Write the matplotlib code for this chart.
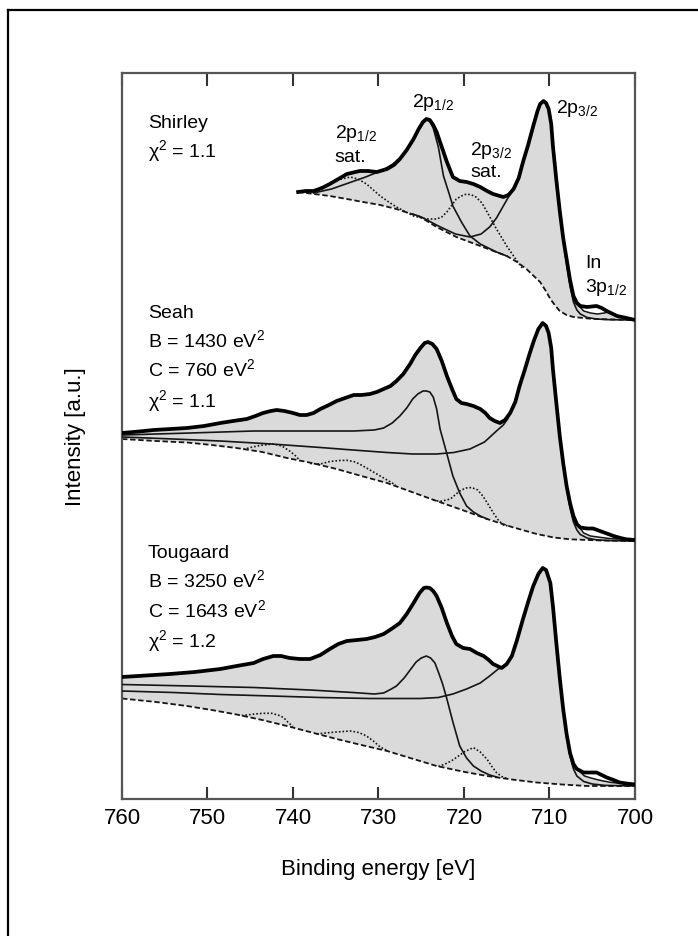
import numpy as np
import matplotlib.pyplot as plt
from matplotlib.lines import Line2D

plt.rcParams['font.family'] = ['Liberation Sans', 'DejaVu Sans']
plt.rcParams['mathtext.fontset'] = 'custom'
plt.rcParams['mathtext.rm'] = 'Liberation Sans'
plt.rcParams['mathtext.it'] = 'Liberation Sans:italic'
plt.rcParams['mathtext.default'] = 'regular'

# Fe 2p spectra, intensity above each panel's own zero (a.u.), energies in eV
shirley_data = [
    (739.4, 12.8), (738.5, 12.9), (737.6, 12.9), (736.6, 13.2), (735.7, 13.6), (734.7, 14.1),
    (733.7, 14.6), (732.2, 14.9), (731.2, 14.9), (730.2, 14.8), (729.0, 15.1), (728.2, 15.5),
    (727.5, 16.1), (726.7, 17.0), (725.9, 18.1), (725.3, 19.1), (724.8, 19.8), (724.4, 20.1),
    (724.0, 20.0), (723.6, 19.5), (723.2, 18.8), (722.6, 17.3), (722.0, 15.8), (721.3, 14.3),
    (720.5, 13.9), (719.7, 13.8), (718.9, 13.6), (718.1, 13.3), (717.3, 12.9), (716.6, 12.6),
    (715.4, 12.3), (714.8, 12.5), (714.2, 13.1), (713.6, 14.2), (713.1, 15.8), (712.5, 17.5),
    (711.9, 19.4), (711.4, 20.9), (711.1, 21.6), (710.7, 21.9), (710.4, 21.7), (710.1, 21.1),
    (709.8, 19.6), (709.6, 17.4), (709.2, 14.0), (708.8, 10.9), (708.4, 8.2), (708.0, 6.1),
    (707.6, 4.0), (707.2, 2.4), (706.8, 1.7), (706.4, 1.4), (705.6, 1.3), (704.5, 1.4),
    (703.9, 1.2), (703.3, 0.9), (702.1, 0.4), (701.0, 0.2), (700.0, 0.0),
]
shirley_bg = [
    (739.4, 12.8), (737.5, 12.6), (735.7, 12.4), (733.7, 12.1), (731.8, 11.8), (729.8, 11.5),
    (727.9, 11.1), (725.1, 10.3), (723.2, 9.3), (720.9, 8.3), (718.1, 7.4), (715.0, 6.4),
    (713.8, 5.8), (712.7, 5.1), (711.1, 3.8), (710.5, 3.0), (709.9, 2.1), (709.3, 1.4),
    (708.8, 0.9), (708.0, 0.5), (707.2, 0.3), (704.9, 0.1), (700.0, 0.0),
]
shirley_p12 = [
    (737.6, 12.7), (735.5, 13.1), (733.5, 13.7), (731.5, 14.3), (729.5, 15.0), (728.3, 15.6),
    (727.5, 16.2), (726.7, 17.0), (725.9, 18.0), (725.3, 19.0), (724.8, 19.7), (724.4, 20.0),
    (724.0, 19.9), (723.6, 19.2), (723.0, 17.3), (722.4, 14.4), (721.8, 12.8), (721.3, 11.4),
    (720.3, 9.8), (719.3, 8.4), (718.1, 7.6), (716.2, 6.8), (715.0, 6.4),
]
shirley_p32 = [
    (726.0, 10.6), (725.0, 10.3), (723.0, 9.4), (721.0, 8.6), (719.3, 8.3), (718.0, 8.6),
    (717.0, 9.3), (716.2, 10.2), (715.4, 11.4), (714.8, 12.3), (714.2, 13.1), (713.6, 14.2),
    (713.1, 15.8), (712.5, 17.5), (711.9, 19.4), (711.4, 20.9), (711.1, 21.6), (710.7, 21.9),
    (710.4, 21.7), (710.1, 21.1), (709.8, 19.6), (709.6, 17.4), (709.2, 14.0), (708.8, 10.8),
    (708.4, 7.9), (708.0, 5.6), (707.6, 3.4), (707.2, 1.8), (706.8, 1.0), (706.4, 0.6),
    (705.6, 0.25), (704.5, 0.1), (703.0, 0.03), (700.0, 0.0),
]
shirley_sat = [
    (737.6, 12.9), (736.4, 13.4), (735.3, 13.8), (734.3, 14.1), (733.3, 14.3), (732.4, 14.1),
    (731.4, 13.6), (730.6, 13.0), (729.8, 12.4), (728.8, 11.8), (727.9, 11.3), (725.9, 10.4),
    (724.4, 10.1), (723.2, 10.1), (722.6, 10.3), (722.0, 10.8), (721.4, 11.5), (720.9, 12.1),
    (720.3, 12.4), (719.7, 12.6), (719.1, 12.5), (718.6, 12.3), (717.9, 11.7), (717.3, 10.8),
    (716.2, 9.1), (715.0, 7.4), (713.8, 5.9), (713.1, 5.1),
]
shirley_fit_in = [(706.6, 1.45), (706.0, 0.9), (705.2, 0.7), (704.4, 0.6), (703.6, 0.7), (703.1, 0.8)]

seah_data = [
    (760.0, 10.8), (758.0, 10.95), (756.3, 11.1), (754.3, 11.2), (752.4, 11.3), (750.4, 11.5),
    (748.5, 11.8), (747.0, 12.0), (745.4, 12.2), (744.4, 12.5), (743.5, 12.8), (742.6, 13.0),
    (741.9, 13.1), (741.0, 13.0), (740.0, 12.8), (739.2, 12.6), (738.4, 12.6), (737.6, 12.8),
    (736.8, 13.2), (735.8, 13.6), (734.9, 14.0), (733.9, 14.3), (732.9, 14.6), (732.0, 14.6),
    (731.0, 14.7), (730.2, 14.9), (729.4, 15.2), (728.6, 15.5), (727.9, 16.0), (727.1, 16.7),
    (726.3, 17.7), (725.7, 18.6), (725.1, 19.3), (724.6, 19.8), (724.2, 19.9), (723.7, 19.7),
    (723.2, 19.2), (722.6, 18.0), (722.0, 16.5), (721.4, 15.2), (720.9, 14.2), (720.3, 13.8),
    (719.7, 13.7), (718.9, 13.5), (718.1, 13.2), (717.5, 12.8), (717.0, 12.3), (716.4, 12.0),
    (715.8, 11.8), (715.2, 12.1), (714.6, 12.8), (714.0, 13.9), (713.5, 15.5), (712.9, 17.1),
    (712.3, 18.8), (711.8, 20.1), (711.3, 21.2), (710.8, 21.8), (710.4, 21.5), (710.1, 20.8),
    (709.8, 19.3), (709.6, 17.2), (709.2, 13.8), (708.8, 10.5), (708.4, 7.8), (708.0, 5.5),
    (707.6, 3.8), (707.2, 2.5), (706.8, 1.7), (706.4, 1.35), (705.6, 1.25), (704.9, 1.25),
    (704.1, 1.0), (703.3, 0.75), (702.5, 0.5), (701.7, 0.3), (701.0, 0.17), (700.0, 0.1),
]
seah_bg = [
    (760.0, 10.2), (756.0, 10.0), (752.4, 9.85), (749.5, 9.6), (746.6, 9.3), (743.6, 8.9),
    (740.7, 8.3), (737.8, 7.8), (734.9, 7.2), (732.0, 6.5), (729.0, 5.8), (726.1, 4.9),
    (723.2, 4.0), (720.2, 3.1), (717.3, 2.2), (714.4, 1.4), (711.5, 0.7), (709.5, 0.35),
    (707.6, 0.17), (704.0, 0.05), (700.0, 0.0),
]
seah_p12 = [
    (760.0, 10.6), (752.0, 10.8), (744.6, 11.0), (736.0, 11.0), (732.9, 11.0), (730.5, 11.1),
    (729.4, 11.3), (728.4, 11.8), (727.5, 12.5), (726.7, 13.3), (726.0, 14.2), (725.4, 14.7),
    (724.8, 15.0), (724.4, 15.0), (724.0, 14.9), (723.6, 14.4), (723.2, 13.2), (722.8, 11.2),
    (722.0, 8.7), (721.3, 6.5), (720.5, 4.8), (719.7, 3.5), (718.9, 2.9), (718.1, 2.5),
    (717.3, 2.2),
]
seah_p32 = [
    (760.0, 10.4), (754.0, 10.2), (748.5, 10.0), (742.5, 9.7), (736.8, 9.35), (733.0, 9.1),
    (729.0, 8.85), (726.0, 8.7), (723.2, 8.7), (721.2, 8.85), (719.3, 9.2), (717.6, 9.9),
    (716.2, 11.0), (715.4, 11.6), (714.9, 12.2), (714.4, 13.2), (714.0, 14.0), (713.5, 15.5),
    (712.9, 17.1), (712.3, 18.8), (711.8, 20.1), (711.3, 21.2), (710.8, 21.8), (710.4, 21.5),
    (710.1, 20.8), (709.8, 19.3), (709.6, 17.2), (709.2, 13.8), (708.8, 10.4), (708.4, 7.6),
    (708.0, 5.2), (707.6, 3.3), (707.2, 1.9), (706.8, 1.1), (706.4, 0.65), (705.6, 0.3),
    (704.6, 0.12), (703.0, 0.04), (700.0, 0.0),
]
seah_sats = [
    [(745.8, 9.15), (745.0, 9.35), (743.9, 9.55), (742.3, 9.7), (741.3, 9.5), (740.4, 9.0),
     (739.6, 8.45), (739.2, 8.0)],
    [(738.0, 7.75), (736.8, 7.7), (735.7, 7.95), (734.6, 8.05), (733.7, 8.07), (732.7, 7.9),
     (731.8, 7.5), (730.8, 7.0), (729.8, 6.5), (728.8, 6.0), (728.0, 5.6)],
    [(723.6, 4.1), (722.8, 3.95), (721.6, 4.2), (720.5, 5.0), (719.8, 5.3), (719.1, 5.35),
     (718.4, 5.1), (717.8, 4.5), (717.2, 3.7), (716.6, 2.85), (716.0, 2.1), (715.4, 1.6),
     (714.8, 1.5)],
]
seah_fit_in = [(706.6, 1.45), (706.0, 0.8), (705.2, 0.5), (704.1, 0.37), (703.0, 0.25), (702.0, 0.2), (701.5, 0.25)]

tougaard_data = [
    (760.0, 10.9), (757.2, 11.05), (754.4, 11.2), (751.5, 11.4), (748.5, 11.7), (746.6, 12.0),
    (744.6, 12.3), (743.5, 12.7), (742.3, 13.0), (741.4, 13.0), (740.4, 12.8), (739.2, 12.7),
    (738.0, 12.7), (736.8, 13.1), (735.7, 13.7), (734.7, 14.2), (733.7, 14.5), (732.5, 14.6),
    (731.4, 14.7), (730.4, 14.9), (729.4, 15.2), (728.5, 15.7), (727.5, 16.3), (726.7, 17.2),
    (725.9, 18.3), (725.2, 19.3), (724.7, 19.8), (724.4, 19.85), (724.0, 19.8), (723.6, 19.5),
    (723.2, 19.0), (722.6, 17.8), (722.0, 16.3), (721.4, 15.0), (720.9, 14.2), (720.1, 13.8),
    (719.3, 13.7), (718.5, 13.3), (717.7, 13.0), (717.1, 12.6), (716.6, 12.2), (715.6, 11.8),
    (715.0, 12.2), (714.4, 13.0), (713.8, 14.6), (713.1, 16.7), (712.5, 18.4), (711.9, 20.0),
    (711.3, 21.2), (710.8, 21.8), (710.4, 21.6), (709.9, 20.3), (709.6, 18.0), (709.2, 14.3),
    (708.8, 10.8), (708.4, 7.7), (708.0, 5.2), (707.6, 3.3), (707.2, 2.2), (706.8, 1.7),
    (706.0, 1.35), (704.5, 1.35), (703.9, 1.1), (703.3, 0.85), (702.5, 0.6), (701.8, 0.35),
    (701.0, 0.25), (700.0, 0.15),
]
tougaard_bg = [
    (760.0, 8.75), (756.0, 8.4), (752.4, 8.0), (749.5, 7.6), (746.6, 7.15), (743.6, 6.6),
    (740.7, 6.0), (737.8, 5.35), (734.9, 4.7), (732.0, 4.1), (729.0, 3.5), (726.1, 2.75),
    (723.2, 2.0), (720.2, 1.45), (717.3, 1.0), (714.4, 0.65), (711.5, 0.35), (708.5, 0.15),
    (705.6, 0.0), (700.0, 0.0),
]
tougaard_p12 = [
    (760.0, 10.15), (752.0, 10.0), (744.6, 9.85), (738.0, 9.6), (733.0, 9.35), (730.5, 9.2),
    (729.4, 9.3), (728.5, 9.7), (727.9, 10.0), (727.0, 10.8), (726.3, 11.6), (725.6, 12.4),
    (725.0, 12.8), (724.4, 13.0), (723.9, 12.8), (723.4, 12.3), (723.0, 11.4), (722.5, 10.2),
    (722.0, 8.7), (721.3, 6.4), (720.5, 4.0), (719.7, 2.8), (718.9, 2.0), (718.0, 1.5),
    (717.0, 1.1), (716.2, 0.9),
]
tougaard_p32 = [
    (760.0, 9.5), (754.0, 9.35), (748.5, 9.15), (742.5, 9.0), (736.8, 8.85), (731.0, 8.75),
    (725.1, 8.75), (723.0, 8.85), (721.3, 9.2), (719.7, 9.7), (718.1, 10.3), (717.0, 11.0),
    (716.0, 11.7), (715.5, 11.9), (715.0, 12.2), (714.4, 13.0), (713.8, 14.6), (713.1, 16.7),
    (712.5, 18.4), (711.9, 20.0), (711.3, 21.2), (710.8, 21.8), (710.4, 21.6), (709.9, 20.3),
    (709.6, 18.0), (709.2, 14.3), (708.8, 10.7), (708.4, 7.5), (708.0, 4.9), (707.6, 3.0),
    (707.2, 1.7), (706.8, 1.0), (706.0, 0.45), (705.0, 0.2), (703.5, 0.06), (700.0, 0.0),
]
tougaard_sats = [
    [(746.0, 7.05), (745.4, 7.1), (744.5, 7.2), (743.5, 7.27), (742.5, 7.27), (741.6, 7.05),
     (741.1, 6.84), (740.5, 6.3), (740.0, 5.95)],
    [(737.2, 5.2), (736.2, 5.3), (734.9, 5.4), (733.3, 5.5), (732.3, 5.35), (731.4, 5.0),
     (730.6, 4.5), (729.8, 3.9), (729.0, 3.55)],
    [(723.0, 1.95), (722.2, 2.2), (721.5, 2.5), (720.9, 2.84), (720.0, 3.4), (718.9, 3.84),
     (718.1, 3.4), (717.3, 2.67), (716.7, 1.9), (716.2, 1.34), (715.6, 0.95), (715.0, 0.75)],
]
tougaard_fit_in = [(706.6, 1.55), (705.9, 1.0), (705.3, 0.84), (704.5, 0.65), (703.7, 0.5), (702.9, 0.37), (702.1, 0.3), (701.5, 0.3)]

# vertical stacking of the three fits
offsets = {'Shirley': 47.9, 'Seah': 25.8, 'Tougaard': 1.3}

INK = '#151515'
FILL = '#dadada'


def xy(points, off):
    a = np.array(points, dtype=float)
    return a[:, 0], a[:, 1] + off


def draw_panel(ax, off, data, bg, comps, sats, fit_in):
    de, di = xy(data, off)
    be, bi = xy(bg, off)
    ax.fill(np.r_[de, be[::-1]], np.r_[di, bi[::-1]], color=FILL, lw=0, zorder=1)

    # the fit sits below the measured points around the In 3p step
    fe, fi = xy(fit_in, off)
    keep = (de < fe[0]) & (de > fe[-1])
    ax.fill(np.r_[fe, de[keep][::-1]], np.r_[fi, di[keep][::-1]], color='white', lw=0, zorder=1.5)
    ax.plot(fe, fi, color=INK, lw=1.1, zorder=3)

    ax.plot(be, bi, color=INK, lw=1.3, ls=(0, (3.0, 1.5)), zorder=2)
    for s in sats:
        se, si = xy(s, off)
        ax.plot(se, si, color=INK, lw=1.2, ls=(0, (1.0, 1.2)), zorder=2)
    for c in comps:
        ce, ci = xy(c, off)
        ax.plot(ce, ci, color=INK, lw=1.2, zorder=3)
    ax.plot(de, di, color='black', lw=2.7, zorder=4, solid_joinstyle='round')


fig = plt.figure(figsize=(6.98, 9.37), dpi=100)
ax = fig.add_axes([122 / 698, 1 - 800 / 937, 513 / 698, 726 / 937])

draw_panel(ax, offsets['Shirley'], shirley_data, shirley_bg,
           [shirley_p12, shirley_p32], [shirley_sat], shirley_fit_in)
draw_panel(ax, offsets['Seah'], seah_data, seah_bg,
           [seah_p12, seah_p32], seah_sats, seah_fit_in)
draw_panel(ax, offsets['Tougaard'], tougaard_data, tougaard_bg,
           [tougaard_p12, tougaard_p32], tougaard_sats, tougaard_fit_in)

ax.set_xlim(760, 700)
ax.set_ylim(0, 72.6)
ax.set_xticks(np.arange(760, 699, -10))
ax.set_yticks([])
ax.tick_params(axis='x', direction='in', top=True, length=9, width=1.5,
               color='#333333', labelsize=16, pad=6)
for sp in ax.spines.values():
    sp.set_color('#555555')
    sp.set_linewidth(1.6)

fig.text(378 / 698, 1 - 870 / 937, 'Binding energy [eV]', ha='center', va='center', fontsize=16)
fig.text(75 / 698, 1 - 437 / 937, 'Intensity [a.u.]', rotation=90, ha='center', va='center', fontsize=16)

# method labels with fit parameters
tx = 757.0
notes = [
    (67.2, 'Shirley'), (64.25, r'χ$^2$ = 1.1'),
    (48.2, 'Seah'), (45.27, r'B = 1430 eV$^2$'), (42.4, r'C = 760 eV$^2$'), (39.33, r'χ$^2$ = 1.1'),
    (24.2, 'Tougaard'), (21.27, r'B = 3250 eV$^2$'), (18.27, r'C = 1643 eV$^2$'), (15.27, r'χ$^2$ = 1.2'),
]
for ty, s in notes:
    ax.text(tx, ty, s, ha='left', va='baseline', fontsize=14, color='black')

# peak assignments on the Shirley fit
peaks = [
    (726.1, 69.33, r'2p$_{1/2}$'),
    (735.1, 66.17, r'2p$_{1/2}$'), (735.1, 63.83, 'sat.'),
    (719.3, 64.5, r'2p$_{3/2}$'), (719.3, 62.33, 'sat.'),
    (709.2, 68.67, r'2p$_{3/2}$'),
    (705.85, 53.17, 'In'), (705.85, 50.83, r'3p$_{1/2}$'),
]
for px, py, s in peaks:
    ax.text(px, py, s, ha='left', va='baseline', fontsize=14, color='black')

# outer frame of the figure panel
fig.add_artist(Line2D([8 / 698, 1.0], [1 - 11 / 937, 1 - 11 / 937], color='black', lw=1.6))
fig.add_artist(Line2D([8 / 698, 8 / 698], [0.0, 1 - 11 / 937], color='black', lw=1.6))

fig.savefig('out.png', dpi=100)
